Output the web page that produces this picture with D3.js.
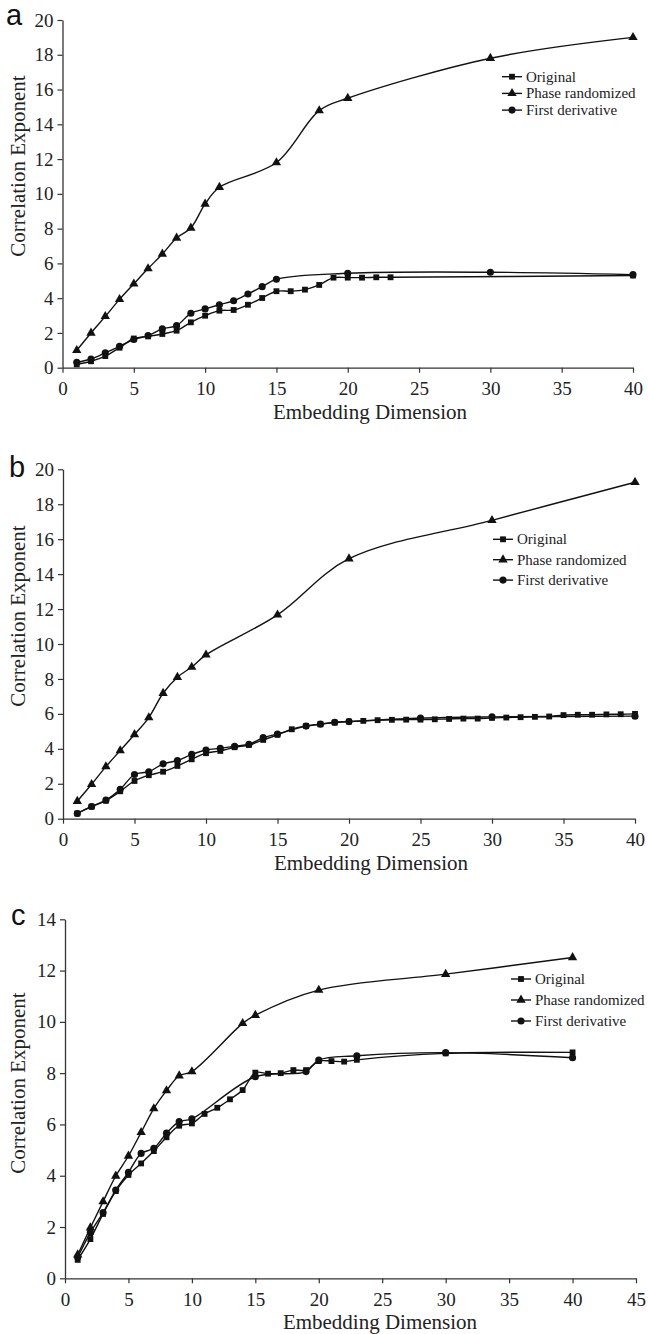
<!DOCTYPE html>
<html>
<head>
<meta charset="utf-8">
<script src="https://cdn.jsdelivr.net/npm/d3@7"></script>
<style>
  html, body { margin: 0; padding: 0; background: #fff; }
  svg { display: block; }
</style>
</head>
<body>
<svg id="chart" width="648" height="1334"></svg>
<script>
// ---- Series names ----
const seriesNames = ["Original", "Phase randomized", "First derivative"];

// ---- Panel a ----
const aOrigDims  = [1,2,3,4,5,6,7,8,9,10,11,12,13,14,15,16,17,18,19,20,21,22,23,40];
const aOrigVals  = [0.19,0.37,0.67,1.15,1.68,1.8,1.94,2.13,2.61,2.99,3.28,3.32,3.62,4.01,4.4,4.4,4.49,4.76,5.18,5.18,5.18,5.2,5.2,5.3];
const aPhaseDims = [1,2,3,4,5,6,7,8,9,10,11,15,18,20,30,40];
const aPhaseVals = [1.0,2.0,2.95,3.93,4.82,5.7,6.54,7.46,8.04,9.42,10.38,11.8,14.79,15.5,17.8,19.0];
const aDerivDims = [1,2,3,4,5,6,7,8,9,10,11,12,13,14,15,20,30,40];
const aDerivVals = [0.31,0.5,0.86,1.23,1.62,1.85,2.23,2.42,3.13,3.38,3.62,3.85,4.24,4.66,5.09,5.43,5.49,5.35];

// ---- Panel b ----
const bOrigDims  = d3.range(1, 41);
const bOrigVals  = [0.3,0.69,1.03,1.57,2.16,2.49,2.69,3.02,3.4,3.75,3.88,4.09,4.22,4.51,4.8,5.12,5.31,5.41,5.5,5.56,
                    5.6,5.64,5.66,5.67,5.67,5.69,5.71,5.73,5.73,5.77,5.79,5.81,5.83,5.85,5.93,5.95,5.95,5.97,5.98,6.0];
const bPhaseDims = [1,2,3,4,5,6,7,8,9,10,15,20,30,40];
const bPhaseVals = [1.0,1.97,2.98,3.9,4.82,5.79,7.18,8.1,8.68,9.38,11.67,14.88,17.08,19.26];
const bDerivDims = [1,2,3,4,5,6,7,8,9,10,11,12,13,14,15,17,18,19,20,25,30,40];
const bDerivVals = [0.3,0.7,1.06,1.68,2.53,2.69,3.14,3.33,3.68,3.93,4.03,4.15,4.26,4.64,4.85,5.3,5.41,5.52,5.56,5.76,5.83,5.87];

// ---- Panel c ----
const cOrigDims  = [1,2,3,4,5,6,7,8,9,10,11,12,13,14,15,16,17,18,19,20,21,22,23,30,40];
const cOrigVals  = [0.72,1.53,2.51,3.4,4.03,4.48,4.96,5.5,5.95,6.04,6.41,6.65,6.98,7.34,8.02,7.98,8.0,8.12,8.12,8.47,8.47,8.45,8.52,8.77,8.81];
const cPhaseDims = [1,2,3,4,5,6,7,8,9,10,14,15,20,30,40];
const cPhaseVals = [0.92,1.97,2.99,3.99,4.77,5.69,6.62,7.32,7.9,8.06,9.94,10.26,11.24,11.86,12.51];
const cDerivDims = [1,2,3,4,5,6,7,8,9,10,15,19,20,23,30,40];
const cDerivVals = [0.82,1.78,2.56,3.44,4.13,4.87,5.07,5.66,6.11,6.22,7.86,8.06,8.51,8.68,8.8,8.6];

// ---- Tick values ----
const xTicksAB = [0,5,10,15,20,25,30,35,40];
const xTicksC  = [0,5,10,15,20,25,30,35,40,45];
const yTicksAB = [0,2,4,6,8,10,12,14,16,18,20];
const yTicksC  = [0,2,4,6,8,10,12,14];

const xTitle = "Embedding Dimension";
const yTitle = "Correlation Exponent";

// ---- Panel layout (pixel geometry) ----
const panels = [
  { letter: "a", xDomain: [0,40], yDomain: [0,20], xTicks: xTicksAB, yTicks: yTicksAB,
    x0: 62.5, x1: 633, y0: 367.7, y1: 20, xTitleCx: 370, yTitleCy: 166,
    letterPos: [6, 25], legend: { x: 502, y: 76.7, dy: 16.7 },
    data: [[aOrigDims, aOrigVals], [aPhaseDims, aPhaseVals], [aDerivDims, aDerivVals]] },
  { letter: "b", xDomain: [0,40], yDomain: [0,20], xTicks: xTicksAB, yTicks: yTicksAB,
    x0: 63, x1: 635, y0: 818.7, y1: 469.3, xTitleCx: 371, yTitleCy: 616,
    letterPos: [9, 477], legend: { x: 493, y: 539.3, dy: 20.4 },
    data: [[bOrigDims, bOrigVals], [bPhaseDims, bPhaseVals], [bDerivDims, bDerivVals]] },
  { letter: "c", xDomain: [0,45], yDomain: [0,14], xTicks: xTicksC, yTicks: yTicksC,
    x0: 65, x1: 636, y0: 1278.3, y1: 919.3, xTitleCx: 380, yTitleCy: 1083,
    letterPos: [11, 925], legend: { x: 511, y: 979, dy: 21 },
    data: [[cOrigDims, cOrigVals], [cPhaseDims, cPhaseVals], [cDerivDims, cDerivVals]] }
];

const serif = '"Liberation Serif", "Times New Roman", serif';
const symbolTypes = [d3.symbolSquare, d3.symbolTriangle, d3.symbolCircle];
const symbolSizes = [34, 38, 40];
const ink = "#111";

const svg = d3.select("#chart");

panels.forEach(p => {
  const g = svg.append("g");
  const x = d3.scaleLinear().domain(p.xDomain).range([p.x0, p.x1]);
  const y = d3.scaleLinear().domain(p.yDomain).range([p.y0, p.y1]);

  // axes
  const yAxis = d3.axisLeft(y).tickValues(p.yTicks).tickSize(5).tickSizeOuter(0).tickPadding(4);
  const xAxis = d3.axisBottom(x).tickValues(p.xTicks).tickSize(5).tickSizeOuter(0).tickPadding(9);

  const gy = g.append("g").attr("transform", `translate(${p.x0},0)`).call(yAxis);
  const gx = g.append("g").attr("transform", `translate(0,${p.y0})`).call(xAxis);
  [gx, gy].forEach(ax => {
    ax.attr("font-family", serif).attr("font-size", 19);
    ax.select(".domain").attr("stroke", "#333").attr("stroke-width", 1.3);
    ax.selectAll(".tick line").attr("stroke", "#333").attr("stroke-width", 1.2);
    ax.selectAll(".tick text").attr("fill", "#222").attr("font-family", serif);
  });

  // axis titles
  g.append("text")
    .attr("x", p.xTitleCx)
    .attr("y", p.y0 + 51)
    .attr("text-anchor", "middle")
    .attr("font-family", serif)
    .attr("font-size", 21)
    .attr("fill", "#222")
    .text(xTitle);

  g.append("text")
    .attr("transform", `translate(25,${p.yTitleCy}) rotate(-90)`)
    .attr("text-anchor", "middle")
    .attr("font-family", serif)
    .attr("font-size", 21)
    .attr("fill", "#222")
    .text(yTitle);

  // panel letter
  g.append("text")
    .attr("x", p.letterPos[0])
    .attr("y", p.letterPos[1])
    .attr("font-family", '"Liberation Sans", Arial, sans-serif')
    .attr("font-size", 29)
    .attr("fill", "#111")
    .text(p.letter);

  // smoothed lines
  const line = d3.line()
    .x(d => x(d[0]))
    .y(d => y(d[1]))
    .curve(d3.curveCatmullRom.alpha(0.5));

  p.data.forEach(([dims, vals], si) => {
    const pts = dims.map((d, i) => [d, vals[i]]);
    g.append("path")
      .datum(pts)
      .attr("d", line)
      .attr("fill", "none")
      .attr("stroke", ink)
      .attr("stroke-width", 1.4);

    const sym = d3.symbol().type(symbolTypes[si]).size(symbolSizes[si]);
    g.append("g").selectAll("path")
      .data(pts)
      .join("path")
      .attr("transform", d => `translate(${x(d[0])},${y(d[1])})`)
      .attr("d", sym)
      .attr("fill", ink);
  });

  // legend
  const lg = g.append("g").attr("transform", `translate(${p.legend.x},${p.legend.y})`);
  seriesNames.forEach((name, si) => {
    const row = lg.append("g").attr("transform", `translate(0,${si * p.legend.dy})`);
    row.append("line").attr("x1", 0).attr("x2", 20).attr("y1", 0).attr("y2", 0)
      .attr("stroke", ink).attr("stroke-width", 1.4);
    row.append("path")
      .attr("transform", "translate(10,0)")
      .attr("d", d3.symbol().type(symbolTypes[si]).size(symbolSizes[si])())
      .attr("fill", ink);
    row.append("text")
      .attr("x", 24)
      .attr("y", 0)
      .attr("dy", "0.33em")
      .attr("font-family", serif)
      .attr("font-size", 15)
      .attr("fill", "#222")
      .text(name);
  });
});
</script>
</body>
</html>
